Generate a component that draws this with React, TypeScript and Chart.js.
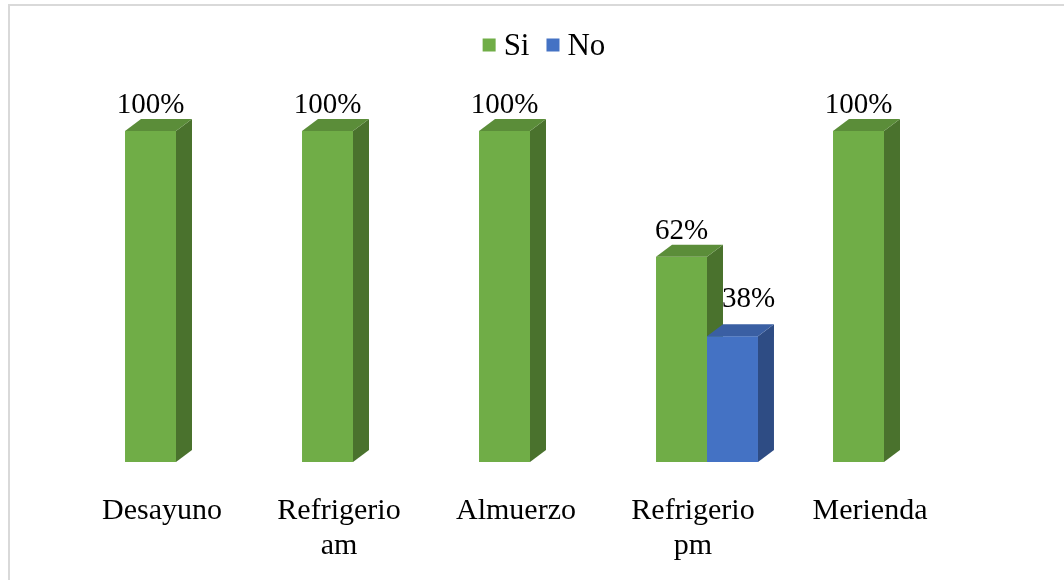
import React, { useEffect, useRef } from "react";
import { Chart, registerables } from "chart.js";

Chart.register(...registerables);

// Meal categories (multi-line labels are arrays)
const categories: (string | string[])[] = [
  "Desayuno",
  ["Refrigerio", "am"],
  "Almuerzo",
  ["Refrigerio", "pm"],
  "Merienda",
];

const seriesNames = ["Si", "No"];
const siValues: (number | null)[] = [100, 100, 100, 62, 100];
const noValues: (number | null)[] = [null, null, null, 38, null];

const frontColors = ["#70AD47", "#4472C4"];
const topColors = ["#5B8D39", "#3A5FA3"];
const sideColors = ["#4A722D", "#2E4C84"];

const SERIF = "'Liberation Serif', 'Times New Roman', serif";

// Draws every column as a 3D block (front, side and top faces), category by
// category so that a later series covers the depth of the earlier one.
const bar3dPlugin = {
  id: "bar3d",
  afterDatasetsDraw(chart: any, _args: any, opts: any) {
    const ctx = chart.ctx;
    const dx = opts.dx;
    const dy = opts.dy;
    const n = chart.data.labels.length;
    ctx.save();
    for (let i = 0; i < n; i++) {
      chart.data.datasets.forEach((ds: any, di: number) => {
        if (ds.data[i] == null) return;
        const el = chart.getDatasetMeta(di).data[i];
        const { x, y, base, width } = el.getProps(["x", "y", "base", "width"], true);
        const l = x - width / 2;
        const r = x + width / 2;
        ctx.fillStyle = frontColors[di];
        ctx.fillRect(l, y, width, base - y);
        ctx.fillStyle = sideColors[di];
        ctx.beginPath();
        ctx.moveTo(r, y);
        ctx.lineTo(r + dx, y - dy);
        ctx.lineTo(r + dx, base - dy);
        ctx.lineTo(r, base);
        ctx.closePath();
        ctx.fill();
        ctx.fillStyle = topColors[di];
        ctx.beginPath();
        ctx.moveTo(l, y);
        ctx.lineTo(l + dx, y - dy);
        ctx.lineTo(r + dx, y - dy);
        ctx.lineTo(r, y);
        ctx.closePath();
        ctx.fill();
      });
    }
    ctx.restore();
  },
};

// Percentage labels above each column.
const valueLabelPlugin = {
  id: "valueLabels",
  afterDraw(chart: any, _args: any, opts: any) {
    const ctx = chart.ctx;
    ctx.save();
    ctx.font = `${opts.size}px ${SERIF}`;
    ctx.fillStyle = "#000";
    ctx.textAlign = "center";
    ctx.textBaseline = "alphabetic";
    chart.data.datasets.forEach((ds: any, di: number) => {
      const meta = chart.getDatasetMeta(di);
      const off = opts.offsets[di];
      meta.data.forEach((el: any, i: number) => {
        const v = ds.data[i];
        if (v == null) return;
        const { x, y } = el.getProps(["x", "y"], true);
        ctx.fillText(`${v}%`, x + off.x, y - off.y);
      });
    });
    ctx.restore();
  },
};

// Legend row with square swatches at the top.
const legendPlugin = {
  id: "squareLegend",
  afterDraw(chart: any, _args: any, opts: any) {
    const ctx = chart.ctx;
    ctx.save();
    ctx.font = `${opts.size}px ${SERIF}`;
    ctx.textBaseline = "middle";
    ctx.textAlign = "left";
    const items = chart.data.datasets.map((ds: any, i: number) => ({
      label: ds.label,
      color: frontColors[i],
      w: ctx.measureText(ds.label).width,
    }));
    const total =
      items.reduce((s: number, it: any) => s + opts.box + opts.boxGap + it.w, 0) +
      opts.itemGap * (items.length - 1);
    let x = chart.width / 2 + opts.shiftX - total / 2;
    const y = opts.y;
    items.forEach((it: any) => {
      ctx.fillStyle = it.color;
      ctx.fillRect(x, y - opts.box / 2, opts.box, opts.box);
      x += opts.box + opts.boxGap;
      ctx.fillStyle = "#000";
      ctx.fillText(it.label, x, y + 2);
      x += it.w + opts.itemGap;
    });
    ctx.restore();
  },
};

export default function App() {
  const canvasRef = useRef<HTMLCanvasElement | null>(null);

  useEffect(() => {
    if (!canvasRef.current) return;
    const chart = new Chart(canvasRef.current, {
      type: "bar",
      data: {
        labels: categories,
        datasets: [
          {
            label: seriesNames[0],
            data: siValues,
            backgroundColor: "rgba(0,0,0,0)",
          },
          {
            label: seriesNames[1],
            data: noValues,
            backgroundColor: "rgba(0,0,0,0)",
          },
        ],
      },
      options: {
        animation: false,
        responsive: false,
        events: [],
        layout: { padding: { left: 77.5, right: 91.5, top: 125, bottom: -15 } },
        datasets: {
          bar: { categoryPercentage: 0.576, barPercentage: 1.0, borderWidth: 0 },
        },
        scales: {
          x: {
            grid: { display: false, drawTicks: false },
            border: { display: false },
            ticks: {
              color: "#000",
              font: { family: SERIF, size: 30, lineHeight: 1.15 },
              padding: 32,
              labelOffset: -14,
              maxRotation: 0,
              autoSkip: false,
            },
          },
          y: { display: false, min: 0, max: 100 },
        },
        plugins: {
          legend: { display: false },
          tooltip: { enabled: false },
          bar3d: { dx: 16, dy: 12 },
          valueLabels: {
            size: 29,
            offsets: [
              { x: 0, y: 18 },
              { x: 16, y: 29 },
            ],
          },
          squareLegend: { size: 31, box: 13, boxGap: 8, itemGap: 17, y: 39, shiftX: 7 },
        } as any,
      },
      plugins: [bar3dPlugin, valueLabelPlugin, legendPlugin],
    });
    return () => chart.destroy();
  }, []);

  return (
    <div
      style={{
        position: "fixed",
        left: 8,
        top: 4,
        width: 1056,
        height: 576,
        boxSizing: "border-box",
        borderTop: "2px solid #d9d9d9",
        borderLeft: "2px solid #d9d9d9",
        background: "#fff",
        overflow: "hidden",
      }}
    >
      <canvas ref={canvasRef} width={1054} height={574} style={{ display: "block" }} />
    </div>
  );
}
